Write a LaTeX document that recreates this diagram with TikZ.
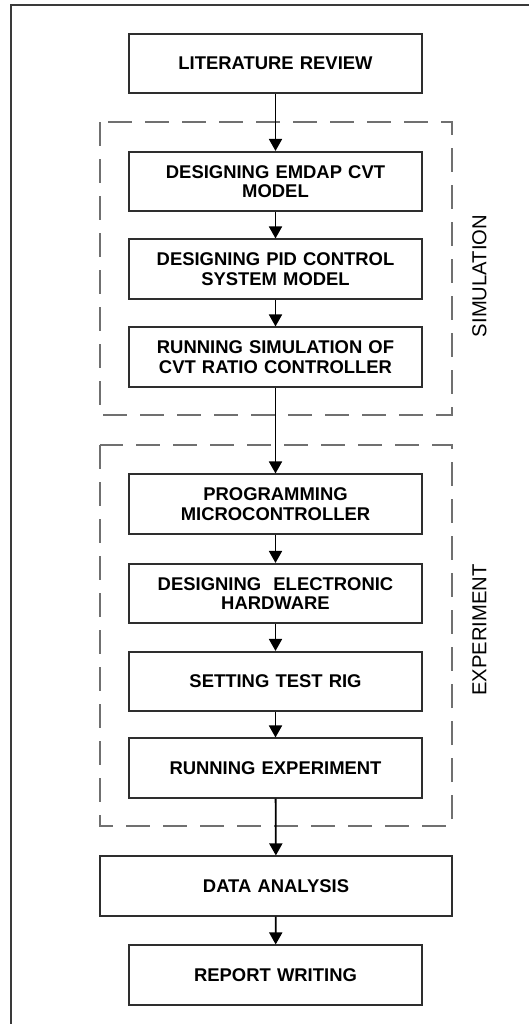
\documentclass[tikz,border=0pt]{standalone}
\usepackage{fontspec}
\setmainfont{Liberation Sans}
\usetikzlibrary{arrows.meta}
\definecolor{boxline}{HTML}{2E2E2E}
\definecolor{dashline}{HTML}{707070}
\definecolor{frameline}{HTML}{3A3A3A}
\tikzset{
  stepbox/.style={draw=boxline, line width=1.6bp, fill=white, inner sep=0pt,
    minimum width=293bp, minimum height=59.5bp, text width=280bp, align=center,
    font=\fontsize{18.5}{19.5}\selectfont\bfseries, text=black},
  widebox/.style={stepbox, minimum width=352bp},
  groupbox/.style={draw=dashline, line width=1.5bp, dash pattern=on 24bp off 13bp},
  grouplabel/.style={rotate=90, font=\fontsize{20.3}{22}\selectfont, text=black, inner sep=0pt},
  flow/.style={draw=black, line width=1.8bp, -{Triangle[length=12bp,width=13bp]}},
}
\begin{document}
\begin{tikzpicture}[x=1bp, y=-1bp]
\useasboundingbox (0,0) rectangle (529,1024);
\fill[white] (0,0) rectangle (529,1024);
% outer frame (only left and top visible)
\draw[frameline, line width=1.6bp] (11,1030) -- (11,5) -- (535,5);

% group frames
\draw[groupbox] (100,122) rectangle (452,415);
\draw[groupbox] (100,445) rectangle (452,826);
\node[grouplabel] (simlab) at (479.5,276) {SIMULATION};
\node[grouplabel] (explab) at (479.5,630) {EXPERIMENT};

% boxes
\node[stepbox] (lr) at (275.5,63.5) {LITERATURE REVIEW};
\node[stepbox] (emdap) at (275.5,181.5) {DESIGNING EMDAP CVT\\MODEL};
\node[stepbox] (pid) at (275.5,269) {DESIGNING PID CONTROL\\SYSTEM MODEL};
\node[stepbox] (runsim) at (275.5,357) {RUNNING SIMULATION OF\\CVT RATIO CONTROLLER};
\node[stepbox] (prog) at (275.5,504) {PROGRAMMING\\MICROCONTROLLER};
\node[stepbox] (elec) at (275.5,593.5) {DESIGNING\ \ ELECTRONIC\\HARDWARE};
\node[stepbox] (rig) at (275.5,681.5) {SETTING TEST RIG};
\node[stepbox] (runexp) at (275.5,768) {RUNNING EXPERIMENT};
\node[widebox] (da) at (276,886) {DATA ANALYSIS};
\node[stepbox] (rw) at (275.5,975) {REPORT WRITING};

% connectors
\draw[flow] (lr) -- (emdap);
\draw[flow] (emdap) -- (pid);
\draw[flow] (pid) -- (runsim);
\draw[flow] (runsim) -- (prog);
\draw[flow] (prog) -- (elec);
\draw[flow] (elec) -- (rig);
\draw[flow] (rig) -- (runexp);
\draw[flow] (runexp) -- (da);
\draw[flow] (da) -- (rw);
\end{tikzpicture}
\end{document}
